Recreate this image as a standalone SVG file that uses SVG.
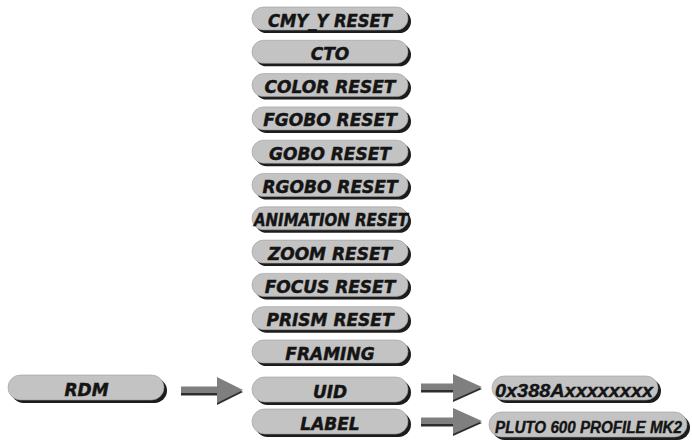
<svg xmlns="http://www.w3.org/2000/svg" width="692" height="443" viewBox="0 0 692 443">
<style>
.bg{fill:#ffffff}
.sh{fill:#1c1c1c}
.bd{fill:#c3c3c3;stroke:#9c9c9c;stroke-width:0.6}
.t{font-family:"DejaVu Sans",sans-serif;font-weight:bold;font-style:italic;font-size:17px;fill:#141414;stroke:#141414;stroke-width:0.45;text-anchor:middle}
.t2{font-family:"Liberation Sans",Arial,sans-serif;font-weight:bold;font-style:italic;fill:#141414;stroke:#141414;stroke-width:0.4;text-anchor:middle}
.ar{fill:#7f7f7f}
.as{fill:#2e2e2e}
</style>
<rect class="bg" x="0" y="0" width="692" height="443"/>
<g id="connectors">
  <g id="arrow-rdm-uid">
    <polygon class="as" points="181,388.5 217,388.5 217,379 243,392 217,405 217,395.5 181,395.5"/>
    <polygon class="ar" points="181,386.5 217,386.5 217,377 243,390 217,403 217,393 181,393"/>
  </g>
  <g id="arrow-uid-value">
    <polygon class="as" points="421,385.5 453,385.5 453,376 482,389 453,402 453,392.5 421,392.5"/>
    <polygon class="ar" points="421,383.5 453,383.5 453,374 482,387 453,400 453,390 421,390"/>
  </g>
  <g id="arrow-label-value">
    <polygon class="as" points="421,419.5 453,419.5 453,410 482,423 453,436 453,426.5 421,426.5"/>
    <polygon class="ar" points="421,417.5 453,417.5 453,408 482,421 453,434 453,424 421,424"/>
  </g>
</g>
<g id="node-cmy-y-reset" transform="translate(0,7)">
  <rect class="sh" x="255" y="3" width="156" height="23" rx="11.5"/>
  <rect class="bd" x="252" y="0" width="156" height="23" rx="11.5"/>
  <text class="t" x="330" y="19.5" textLength="124" lengthAdjust="spacingAndGlyphs">CMY_Y RESET</text>
</g>
<g id="node-cto" transform="translate(0,40.3)">
  <rect class="sh" x="255" y="3" width="156" height="23" rx="11.5"/>
  <rect class="bd" x="252" y="0" width="156" height="23" rx="11.5"/>
  <text class="t" x="330" y="19.5">CTO</text>
</g>
<g id="node-color-reset" transform="translate(0,73.6)">
  <rect class="sh" x="255" y="3" width="156" height="23" rx="11.5"/>
  <rect class="bd" x="252" y="0" width="156" height="23" rx="11.5"/>
  <text class="t" x="330" y="19.5">COLOR RESET</text>
</g>
<g id="node-fgobo-reset" transform="translate(0,106.9)">
  <rect class="sh" x="255" y="3" width="156" height="23" rx="11.5"/>
  <rect class="bd" x="252" y="0" width="156" height="23" rx="11.5"/>
  <text class="t" x="330" y="19.5">FGOBO RESET</text>
</g>
<g id="node-gobo-reset" transform="translate(0,140.2)">
  <rect class="sh" x="255" y="3" width="156" height="23" rx="11.5"/>
  <rect class="bd" x="252" y="0" width="156" height="23" rx="11.5"/>
  <text class="t" x="330" y="19.5">GOBO RESET</text>
</g>
<g id="node-rgobo-reset" transform="translate(0,173.5)">
  <rect class="sh" x="255" y="3" width="156" height="23" rx="11.5"/>
  <rect class="bd" x="252" y="0" width="156" height="23" rx="11.5"/>
  <text class="t" x="330" y="19.5">RGOBO RESET</text>
</g>
<g id="node-animation-reset" transform="translate(0,206.8)">
  <rect class="sh" x="255" y="3" width="156" height="23" rx="11.5"/>
  <rect class="bd" x="252" y="0" width="156" height="23" rx="11.5"/>
  <text class="t" x="331" y="19.5" textLength="154" lengthAdjust="spacingAndGlyphs">ANIMATION RESET</text>
</g>
<g id="node-zoom-reset" transform="translate(0,240.1)">
  <rect class="sh" x="255" y="3" width="156" height="23" rx="11.5"/>
  <rect class="bd" x="252" y="0" width="156" height="23" rx="11.5"/>
  <text class="t" x="330" y="19.5">ZOOM RESET</text>
</g>
<g id="node-focus-reset" transform="translate(0,273.4)">
  <rect class="sh" x="255" y="3" width="156" height="23" rx="11.5"/>
  <rect class="bd" x="252" y="0" width="156" height="23" rx="11.5"/>
  <text class="t" x="330" y="19.5">FOCUS RESET</text>
</g>
<g id="node-prism-reset" transform="translate(0,306.7)">
  <rect class="sh" x="255" y="3" width="156" height="23" rx="11.5"/>
  <rect class="bd" x="252" y="0" width="156" height="23" rx="11.5"/>
  <text class="t" x="330" y="19.5">PRISM RESET</text>
</g>
<g id="node-framing" transform="translate(0,340)">
  <rect class="sh" x="255" y="3" width="156" height="23" rx="11.5"/>
  <rect class="bd" x="252" y="0" width="156" height="23" rx="11.5"/>
  <text class="t" x="330" y="19.5">FRAMING</text>
</g>
<g id="node-uid" transform="translate(0,377)">
  <rect class="sh" x="255" y="3" width="156" height="25" rx="12.5"/>
  <rect class="bd" x="252" y="0" width="156" height="25" rx="12.5"/>
  <text class="t" x="330" y="20.5" font-size="18">UID</text>
</g>
<g id="node-label" transform="translate(0,409)">
  <rect class="sh" x="255" y="3" width="156" height="25" rx="12.5"/>
  <rect class="bd" x="252" y="0" width="156" height="25" rx="12.5"/>
  <text class="t" x="330" y="20.5" font-size="18">LABEL</text>
</g>
<g id="node-rdm" transform="translate(0,375)">
  <rect class="sh" x="11" y="3" width="156" height="25" rx="12.5"/>
  <rect class="bd" x="8" y="0" width="156" height="25" rx="12.5"/>
  <text class="t" x="86.5" y="20.5" font-size="18">RDM</text>
</g>
<g id="node-uid-value" transform="translate(0,376)">
  <rect class="sh" x="495" y="3" width="166" height="24" rx="12"/>
  <rect class="bd" x="492" y="0" width="166" height="24" rx="12"/>
  <text class="t2" x="574" y="20.5" font-size="19" textLength="158" lengthAdjust="spacingAndGlyphs">0x388Axxxxxxxx</text>
</g>
<g id="node-label-value" transform="translate(0,412)">
  <rect class="sh" x="492" y="3" width="198" height="25" rx="12.5"/>
  <rect class="bd" x="489" y="0" width="198" height="25" rx="12.5"/>
  <text class="t2" x="588.5" y="20.5" font-size="16" textLength="187" lengthAdjust="spacingAndGlyphs">PLUTO 600 PROFILE MK2</text>
</g>
</svg>
